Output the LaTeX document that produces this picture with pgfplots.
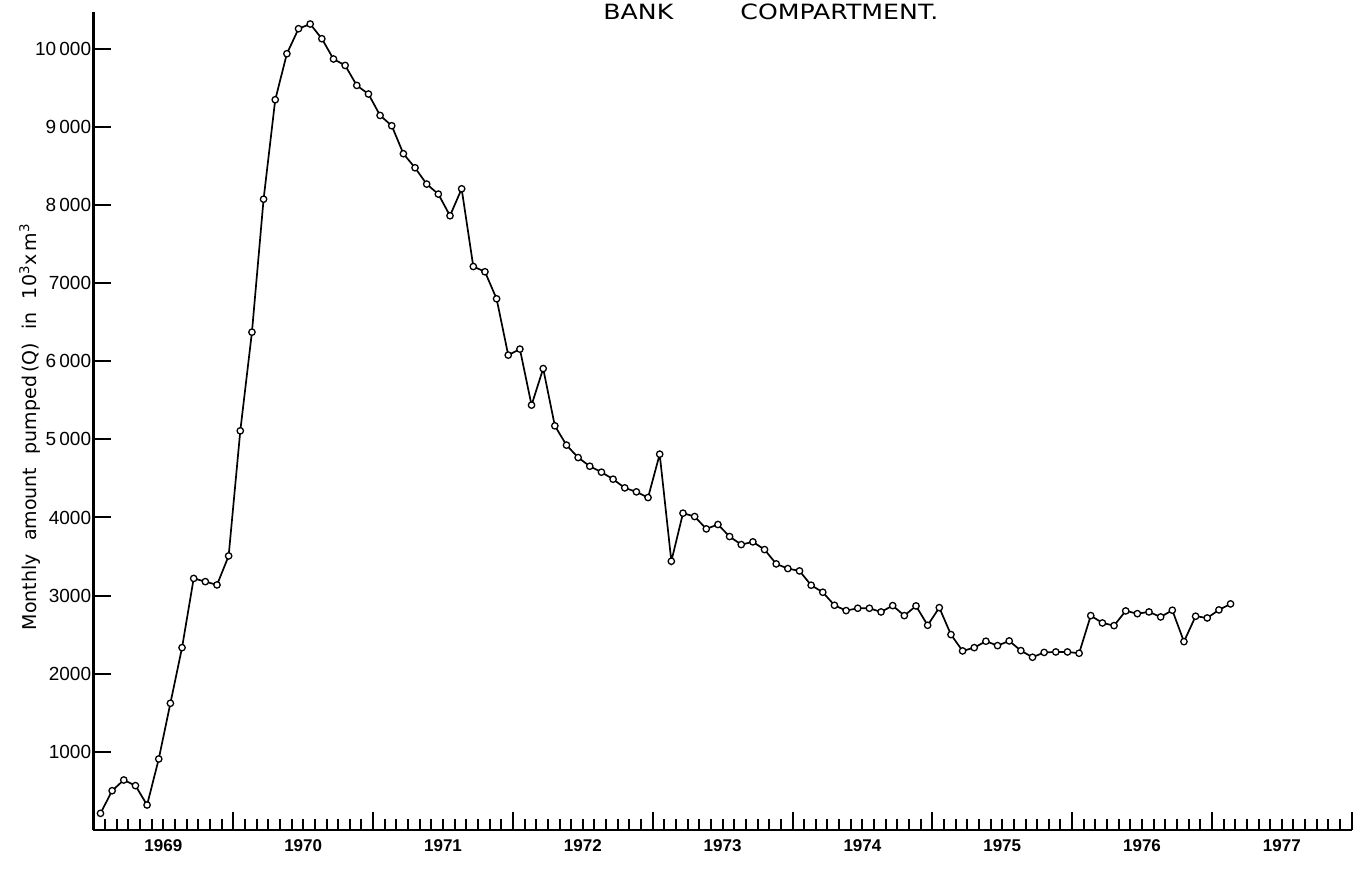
\documentclass[border=0pt]{standalone}
\usepackage{fontspec}
\setmainfont{DejaVu Sans}
\newfontfamily\numfont{Liberation Sans}
\newfontfamily\titlefont[FakeStretch=1.2]{DejaVu Sans}
\usepackage{pgfplots}
\pgfplotsset{compat=1.18}

% Monthly amount pumped, months counted from January 1969
\pgfplotstableread{
m     q
0.6   213
1.6   503
2.6   640
3.6   568
4.6   320
5.6   909
6.6   1622
7.6   2334
8.6   3220
9.6   3179
10.6  3137
11.6  3508
12.6  5109
13.6  6372
14.6  8074
15.6  9347
16.6  9936
17.6  10256
18.6  10316
19.6  10128
20.6  9868
21.6  9786
22.6  9530
23.6  9420
24.6  9146
25.6  9014
26.6  8656
27.6  8476
28.6  8267
29.6  8139
30.6  7862
31.6  8207
32.6  7212
33.6  7145
34.6  6799
35.6  6078
36.6  6155
37.6  5438
38.6  5906
39.6  5173
40.6  4926
41.6  4767
42.6  4656
43.6  4580
44.6  4490
45.6  4379
46.6  4328
47.6  4255
48.6  4810
49.6  3440
50.6  4055
51.6  4012
52.6  3854
53.6  3910
54.6  3756
55.6  3653
56.6  3688
57.6  3589
58.6  3406
59.6  3346
60.6  3316
61.6  3133
62.6  3043
63.6  2876
64.6  2808
65.6  2838
66.6  2838
67.6  2791
68.6  2872
69.6  2744
70.6  2868
71.6  2620
72.6  2846
73.6  2501
74.6  2292
75.6  2334
76.6  2416
77.6  2360
78.6  2420
79.6  2296
80.6  2211
81.6  2273
82.6  2279
83.6  2279
84.6  2262
85.6  2744
86.6  2650
87.6  2616
88.6  2804
89.6  2769
90.6  2791
91.6  2727
92.6  2813
93.6  2411
94.6  2736
95.6  2714
96.6  2817
97.6  2894
}\pumped

\begin{document}
\begin{tikzpicture}
\begin{axis}[
  at={(0,0)}, anchor=south west,
  scale only axis, width=629.1pt, height=409pt,
  xmin=0, xmax=108, ymin=0, ymax=10470,
  axis x line=bottom, axis y line=left,
  axis line style={-, line width=1.2pt},
  tick align=inside,
  xtick={0,12,...,108},
  x tick label as interval,
  xticklabels={1969,1970,1971,1972,1973,1974,1975,1976,1977},
  minor x tick num=11,
  ytick={1000,2000,...,10000},
  yticklabels={1000,2000,3000,4000,5\,000,6\,000,7000,8\,000,9\,000,10\,000},
  major tick length=9pt, minor tick length=5.5pt,
  every tick/.style={black, line width=1pt},
  xticklabel style={font=\numfont\bfseries\fontsize{8.5}{10}\selectfont, yshift=-1.2pt},
  yticklabel style={font=\numfont\fontsize{9.5}{11}\selectfont, inner sep=1pt},
  ylabel={Monthly\hspace{0.7em}amount\hspace{0.7em}pumped\,(Q)\hspace{0.7em}in\hspace{0.7em}10\textsuperscript{3}x\,m\textsuperscript{3}},
  ylabel style={at={(axis description cs:-0.0505,0.493)}, anchor=center, font=\fontsize{9.5}{11}\selectfont},
  clip=false,
]
\addplot[black, line width=0.85pt, mark=*, mark size=1.6pt,
         mark options={fill=white, draw=black, line width=0.65pt}]
  table[x=m, y=q] {\pumped};
\end{axis}
\node[anchor=base west, inner sep=0pt, font=\titlefont\fontsize{10.5}{12}\selectfont] at (254.75pt,405pt) {BANK};
\node[anchor=base west, inner sep=0pt, font=\titlefont\fontsize{10.5}{12}\selectfont] at (323.25pt,405pt) {COMPARTMENT.};
\pgfresetboundingbox
\path[use as bounding box] (-46.75pt,-20.5pt) rectangle (632.25pt,415pt);
\end{tikzpicture}
\end{document}
